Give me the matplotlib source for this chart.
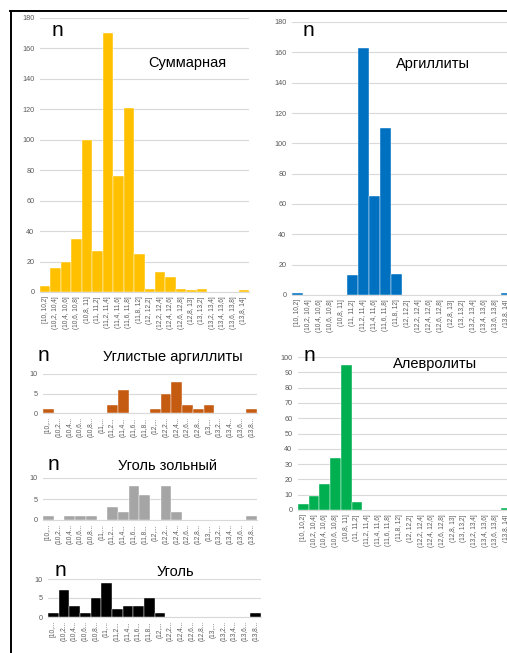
import matplotlib
matplotlib.use("Agg")
import matplotlib.pyplot as plt
from matplotlib.lines import Line2D

plt.rcParams['font.family'] = ['Liberation Sans', 'DejaVu Sans']

W, H = 507, 653

# Интервалы гистограммы
bins = ["[10, 10,2]", "(10,2, 10,4]", "(10,4, 10,6]", "(10,6, 10,8]", "(10,8, 11]",
        "(11, 11,2]", "(11,2, 11,4]", "(11,4, 11,6]", "(11,6, 11,8]", "(11,8, 12]",
        "(12, 12,2]", "(12,2, 12,4]", "(12,4, 12,6]", "(12,6, 12,8]", "(12,8, 13]",
        "(13, 13,2]", "(13,2, 13,4]", "(13,4, 13,6]", "(13,6, 13,8]", "(13,8, 14]"]
short_bins = [b[:5].rstrip() + "..." for b in bins]

# Частоты по литотипам
summ = [4, 16, 20, 35, 100, 27, 170, 76, 121, 25, 2, 13, 10, 2, 1, 2, 0, 0, 0, 1]
argill = [1, 0, 0, 0, 0, 13, 163, 65, 110, 14, 0, 0, 0, 0, 0, 0, 0, 0, 0, 1]
ugl_argill = [1, 0, 0, 0, 0, 0, 2, 6, 0, 0, 1, 5, 8, 2, 1, 2, 0, 0, 0, 1]
alevr = [4, 9, 17, 34, 95, 5, 0, 0, 0, 0, 0, 0, 0, 0, 0, 0, 0, 0, 0, 1]
ugol_zol = [1, 0, 1, 1, 1, 0, 3, 2, 8, 6, 0, 8, 2, 0, 0, 0, 0, 0, 0, 1]
ugol = [1, 7, 3, 1, 5, 9, 2, 3, 3, 5, 1, 0, 0, 0, 0, 0, 0, 0, 0, 1]

fig = plt.figure(figsize=(W / 100, H / 100), dpi=100)


def panel(x0, x1, ytop, ybot, values, color, ymax, step, labels, title, n_xy, t_xy):
    ax = fig.add_axes([x0 / W, 1 - ybot / H, (x1 - x0) / W, (ybot - ytop) / H])
    x = range(len(values))
    ax.bar(x, values, width=1.0, color=color, edgecolor='#ffffff', linewidth=0.3, zorder=3)
    ax.set_xlim(-0.5, len(values) - 0.5)
    ax.set_ylim(0, ymax)
    ax.set_yticks(range(0, ymax + 1, step))
    ax.set_xticks(list(x))
    ax.set_xticklabels(labels, rotation=90, fontsize=4.7, color='#595959')
    ax.tick_params(axis='y', labelsize=5.2, labelcolor='#595959', length=0, pad=4)
    ax.tick_params(axis='x', length=0, pad=3)
    ax.grid(axis='y', color='#d9d9d9', linewidth=0.8, zorder=0)
    for s in ('top', 'right', 'left'):
        ax.spines[s].set_visible(False)
    ax.spines['bottom'].set_color('#d9d9d9')
    ax.spines['bottom'].set_linewidth(0.8)
    fig.text(n_xy[0] / W, 1 - n_xy[1] / H, "n", fontsize=15, ha='center', va='center')
    fig.text(t_xy[0] / W, 1 - t_xy[1] / H, title, fontsize=10.5, ha='center', va='center')
    return ax


panel(40, 249, 18, 292, summ, '#ffc000', 180, 20, bins, "Суммарная", (57, 31), (187, 63))
panel(292, 512, 22, 295, argill, '#0070c0', 180, 20, bins, "Аргиллиты", (308, 31), (433, 64))
panel(43, 257, 374, 413, ugl_argill, '#c55a11', 10, 5, short_bins,
      "Углистые аргиллиты", (43, 356), (173, 357))
panel(298, 512, 357, 510, alevr, '#00b050', 100, 10, bins, "Алевролиты", (309, 356), (435, 364))
panel(43, 257, 478, 520, ugol_zol, '#a5a5a5', 10, 5, short_bins,
      "Уголь зольный", (53, 465), (167, 466))
panel(48, 261, 579, 617, ugol, '#000000', 10, 5, short_bins, "Уголь", (60, 571), (175, 572))

# Рамка слева и сверху
fig.add_artist(Line2D([10.5 / W, 10.5 / W], [0, 1 - 11 / H], color='black', linewidth=1.4))
fig.add_artist(Line2D([10 / W, 1], [1 - 11 / H, 1 - 11 / H], color='black', linewidth=1.4))

fig.savefig("out.png", dpi=100)
